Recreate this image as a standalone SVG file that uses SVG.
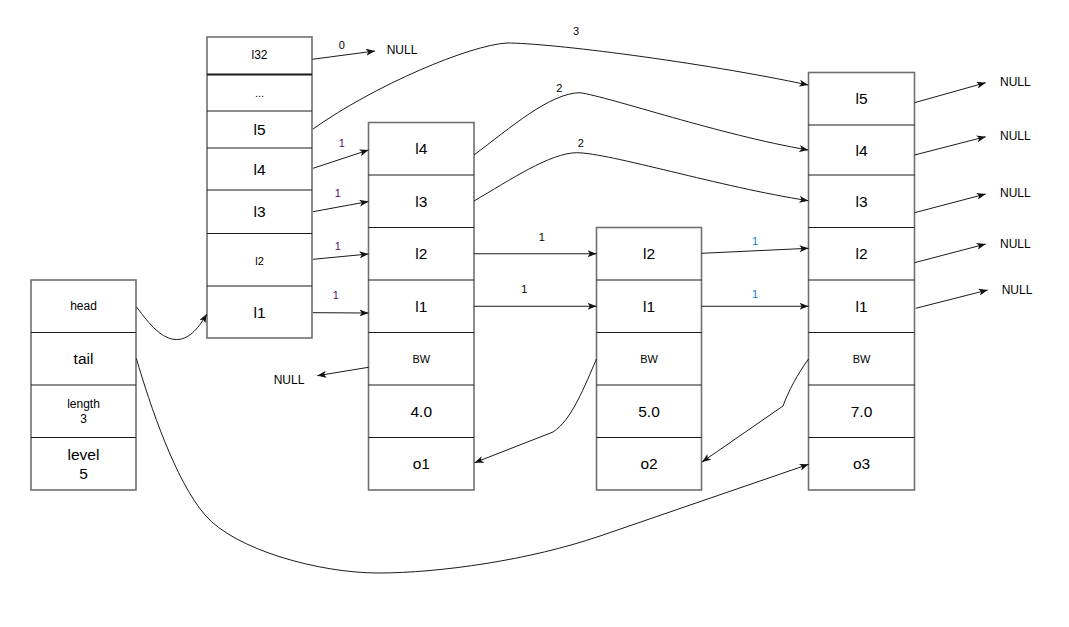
<svg xmlns="http://www.w3.org/2000/svg" width="1069" height="627" viewBox="0 0 1069 627">
<defs>
<marker id="arr" viewBox="0 0 9 7" refX="9" refY="3.5" markerWidth="9" markerHeight="7" markerUnits="userSpaceOnUse" orient="auto">
<path d="M0,0 L9,3.5 L0,7 L2.3,3.5 Z" fill="#111"/>
</marker>
<style>
.box{fill:#fff;stroke:#707070;stroke-width:1.6}
.div{stroke:#1a1a1a;stroke-width:1.1}
.t{font-family:"Liberation Sans",Arial,Helvetica,sans-serif;text-anchor:middle;fill:#000}
.big{font-size:15.5px}
.sm{font-size:12px}
.xs{font-size:11px}
.lbl{font-family:"Liberation Sans",Arial,Helvetica,sans-serif;text-anchor:middle;font-size:11px;fill:#000}
.pu{fill:#5a0a73}
.bl{fill:#0a7cd8}
.nul{font-family:"Liberation Sans",Arial,Helvetica,sans-serif;font-size:12px;fill:#000}
.e{fill:none;stroke:#1a1a1a;stroke-width:1;marker-end:url(#arr)}
</style>
</defs>
<rect width="1069" height="627" fill="#fff"/>

<g id="list">
<rect class="box" x="31" y="280" width="105" height="210"/>
<line class="div" x1="31" y1="332.5" x2="136" y2="332.5"/>
<line class="div" x1="31" y1="385" x2="136" y2="385"/>
<line class="div" x1="31" y1="437.5" x2="136" y2="437.5"/>
<text class="t sm" x="83.5" y="310.3">head</text>
<text class="t big" x="83.5" y="364.4">tail</text>
<text class="t sm" x="83.5" y="408.3">length</text>
<text class="t sm" x="83.5" y="423.3">3</text>
<text class="t big" x="83.5" y="460">level</text>
<text class="t big" x="83.5" y="479.3">5</text>
</g>

<g id="header">
<rect class="box" x="207" y="37" width="105" height="301"/>
<line class="div" x1="207" y1="74.5" x2="312" y2="74.5" style="stroke-width:2"/>
<line class="div" x1="207" y1="111" x2="312" y2="111"/>
<line class="div" x1="207" y1="148" x2="312" y2="148"/>
<line class="div" x1="207" y1="190" x2="312" y2="190"/>
<line class="div" x1="207" y1="233.5" x2="312" y2="233.5"/>
<line class="div" x1="207" y1="286" x2="312" y2="286"/>
<text class="t sm" x="259.5" y="59.3">l32</text>
<text class="t xs" x="259.5" y="97">...</text>
<text class="t big" x="259.5" y="135">l5</text>
<text class="t big" x="259.5" y="174.5">l4</text>
<text class="t big" x="259.5" y="217">l3</text>
<text class="t xs" x="259.5" y="265">l2</text>
<text class="t big" x="259.5" y="318">l1</text>
</g>

<g id="node1">
<rect class="box" x="368.5" y="122.5" width="105.5" height="367.5"/>
<line class="div" x1="368.5" y1="175" x2="474" y2="175"/>
<line class="div" x1="368.5" y1="227.5" x2="474" y2="227.5"/>
<line class="div" x1="368.5" y1="280" x2="474" y2="280"/>
<line class="div" x1="368.5" y1="332.5" x2="474" y2="332.5"/>
<line class="div" x1="368.5" y1="385" x2="474" y2="385"/>
<line class="div" x1="368.5" y1="437.5" x2="474" y2="437.5"/>
<text class="t big" x="421.25" y="154.4">l4</text>
<text class="t big" x="421.25" y="206.9">l3</text>
<text class="t big" x="421.25" y="259.4">l2</text>
<text class="t big" x="421.25" y="311.9">l1</text>
<text class="t xs" x="421.25" y="362.7">BW</text>
<text class="t big" x="421.25" y="416.9">4.0</text>
<text class="t big" x="421.25" y="469.4">o1</text>
</g>

<g id="node2">
<rect class="box" x="596.5" y="227.5" width="105" height="262.5"/>
<line class="div" x1="596.5" y1="280" x2="701.5" y2="280"/>
<line class="div" x1="596.5" y1="332.5" x2="701.5" y2="332.5"/>
<line class="div" x1="596.5" y1="385" x2="701.5" y2="385"/>
<line class="div" x1="596.5" y1="437.5" x2="701.5" y2="437.5"/>
<text class="t big" x="649" y="259.4">l2</text>
<text class="t big" x="649" y="311.9">l1</text>
<text class="t xs" x="649" y="362.7">BW</text>
<text class="t big" x="649" y="416.9">5.0</text>
<text class="t big" x="649" y="469.4">o2</text>
</g>

<g id="node3">
<rect class="box" x="808.5" y="72.5" width="106" height="417.5"/>
<line class="div" x1="808.5" y1="125" x2="914.5" y2="125"/>
<line class="div" x1="808.5" y1="175" x2="914.5" y2="175"/>
<line class="div" x1="808.5" y1="227.5" x2="914.5" y2="227.5"/>
<line class="div" x1="808.5" y1="280" x2="914.5" y2="280"/>
<line class="div" x1="808.5" y1="332.5" x2="914.5" y2="332.5"/>
<line class="div" x1="808.5" y1="385" x2="914.5" y2="385"/>
<line class="div" x1="808.5" y1="437.5" x2="914.5" y2="437.5"/>
<text class="t big" x="861.5" y="104.4">l5</text>
<text class="t big" x="861.5" y="155.6">l4</text>
<text class="t big" x="861.5" y="206.9">l3</text>
<text class="t big" x="861.5" y="259.4">l2</text>
<text class="t big" x="861.5" y="311.9">l1</text>
<text class="t xs" x="861.5" y="362.7">BW</text>
<text class="t big" x="861.5" y="416.9">7.0</text>
<text class="t big" x="861.5" y="469.4">o3</text>
</g>

<g id="connectors">
<path class="e" d="M136.3,306.7 C150,325 162,339.5 176.7,339.5 C190,339.5 200,326 206.7,314"/>
<path class="e" d="M136.3,358.3 C150,405 175,480 205,515 C235,550 320,573 378,573 C440,573 530,560 600,536 L808.6,464.3"/>
<path class="e" d="M312.3,59.3 L375,51"/>
<path class="e" d="M313,129 C375,85 470,45 507,43 C550,43 700,62 808.3,85"/>
<path class="e" d="M313,168.3 L368.5,150"/>
<path class="e" d="M313,211.7 L368.5,201.5"/>
<path class="e" d="M313,259.3 L368.5,254"/>
<path class="e" d="M313,312.7 L368.5,313"/>
<path class="e" d="M474,155 C510,128 550,93 580,92.7 C610,97 720,135 808.3,150"/>
<path class="e" d="M474,201 C510,180 550,153 576.7,152.7 C610,153 720,187 808.3,200.7"/>
<path class="e" d="M474,253.75 L596.5,253.75"/>
<path class="e" d="M474,306.25 L596.5,306.25"/>
<path class="e" d="M701.5,253.3 L808.5,248.3"/>
<path class="e" d="M701.5,306.25 L808.5,306.25"/>
<path class="e" d="M368.5,367.3 L317.3,375.7"/>
<path class="e" d="M596.5,359 C585,385 572,420 553,432 L474.5,462.7"/>
<path class="e" d="M808.5,359 C797,375 789,390 783,406 L702,462"/>
<path class="e" d="M914.5,102.7 L985.7,82.7"/>
<path class="e" d="M914.5,155 L985.7,136.7"/>
<path class="e" d="M914.5,212.7 L985.7,194"/>
<path class="e" d="M914.5,262.7 L985.7,244"/>
<path class="e" d="M915.7,308.3 L987.7,290"/>
</g>

<g id="labels">
<text class="lbl" x="341.7" y="49">0</text>
<text class="lbl" x="576" y="35">3</text>
<text class="lbl" x="559.3" y="91.7">2</text>
<text class="lbl" x="580.7" y="147.3">2</text>
<text class="lbl pu" x="341.7" y="147.3">1</text>
<text class="lbl pu" x="337.7" y="196.7">1</text>
<text class="lbl pu" x="337.7" y="250">1</text>
<text class="lbl pu" x="335.7" y="299">1</text>
<text class="lbl" x="541.7" y="241.3">1</text>
<text class="lbl" x="524.3" y="293.3">1</text>
<text class="lbl bl" x="755" y="244.7">1</text>
<text class="lbl bl" x="755" y="298">1</text>
<text class="nul" x="386.7" y="54.3">NULL</text>
<text class="nul" x="273.7" y="384.3">NULL</text>
<text class="nul" x="1000" y="86">NULL</text>
<text class="nul" x="1000" y="140">NULL</text>
<text class="nul" x="1000" y="197">NULL</text>
<text class="nul" x="1000" y="247.6">NULL</text>
<text class="nul" x="1001.7" y="293.6">NULL</text>
</g>
</svg>
